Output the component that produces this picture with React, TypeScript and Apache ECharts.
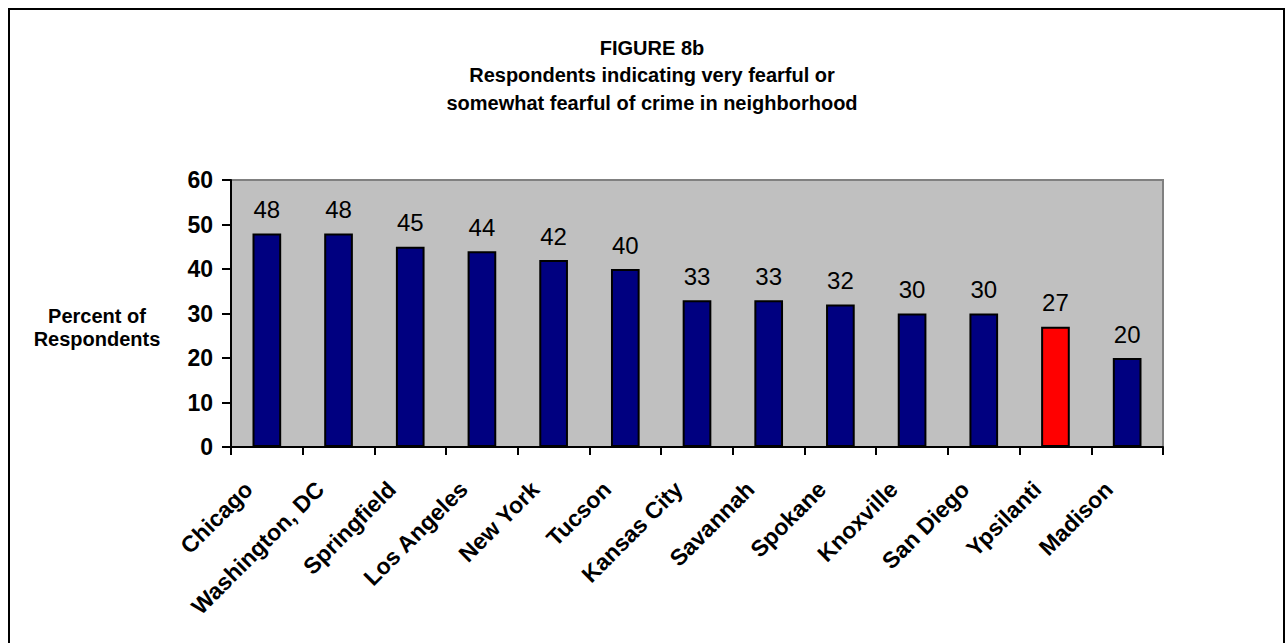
import { useEffect, useRef } from "react";
import * as echarts from "echarts";

const categories = [
  "Chicago",
  "Washington, DC",
  "Springfield",
  "Los Angeles",
  "New York",
  "Tucson",
  "Kansas City",
  "Savannah",
  "Spokane",
  "Knoxville",
  "San Diego",
  "Ypsilanti",
  "Madison",
];
const values = [48, 48, 45, 44, 42, 40, 33, 33, 32, 30, 30, 27, 20];
const highlighted = ["Ypsilanti"];
const titleLines = [
  "FIGURE 8b",
  "Respondents indicating very fearful or",
  "somewhat fearful of crime in neighborhood",
];
const yAxisName = ["Percent of", "Respondents"];
const yMin = 0;
const yMax = 60;
const yStep = 10;

const FONT = "'Liberation Sans', Arial, Helvetica, sans-serif";

export default function App() {
  const ref = useRef<HTMLDivElement>(null);

  useEffect(() => {
    document.body.style.margin = "0";
    if (!ref.current) return;
    const chart = echarts.init(ref.current, undefined, { renderer: "svg" });
    chart.setOption({
      animation: false,
      backgroundColor: "#ffffff",
      title: {
        text: titleLines.join("\n"),
        left: 647,
        top: 29,
        textAlign: "center",
        textStyle: {
          fontFamily: FONT,
          fontSize: 20,
          fontWeight: "bold",
          color: "#000",
          lineHeight: 27.5,
        },
      },
      graphic: [
        {
          type: "rect",
          shape: { x: 9, y: 9, width: 1275, height: 700 },
          style: { fill: "none", stroke: "#000", lineWidth: 2 },
          silent: true,
          z: 0,
        },
        {
          type: "text",
          x: 97,
          y: 327,
          silent: true,
          style: {
            text: yAxisName.join("\n"),
            fontFamily: FONT,
            fontSize: 20,
            fontWeight: "bold",
            fill: "#000",
            align: "center",
            verticalAlign: "middle",
            lineHeight: 23,
          },
        },
      ],
      grid: {
        left: 231,
        right: 125,
        top: 180,
        bottom: 196,
        show: true,
        backgroundColor: "#c0c0c0",
        borderColor: "#808080",
        borderWidth: 2,
      },
      xAxis: {
        type: "category",
        data: categories,
        boundaryGap: true,
        axisLine: { show: true, lineStyle: { color: "#000", width: 2 } },
        axisTick: {
          show: true,
          alignWithLabel: false,
          length: 8,
          lineStyle: { color: "#000", width: 2 },
        },
        axisLabel: {
          interval: 0,
          rotate: 45,
          margin: 20,
          padding: [0, 26, 0, 0],
          fontFamily: FONT,
          fontSize: 23,
          fontWeight: "bold",
          color: "#000",
        },
        splitLine: { show: false },
      },
      yAxis: {
        type: "value",
        min: yMin,
        max: yMax,
        interval: yStep,
        axisLine: { show: true, lineStyle: { color: "#000", width: 2 } },
        axisTick: {
          show: true,
          length: 9,
          lineStyle: { color: "#000", width: 2 },
        },
        axisLabel: {
          margin: 18,
          fontFamily: FONT,
          fontSize: 23,
          fontWeight: "bold",
          color: "#000",
        },
        splitLine: { show: false },
      },
      series: [
        {
          type: "bar",
          data: values.map((v, i) => ({
            value: v,
            itemStyle: {
              color: highlighted.includes(categories[i]) ? "#ff0000" : "#000080",
            },
          })),
          barCategoryGap: "60%",
          itemStyle: { borderColor: "#000", borderWidth: 2 },
          label: {
            show: true,
            position: "top",
            distance: 12,
            fontFamily: FONT,
            fontSize: 24,
            fontWeight: "normal",
            color: "#000",
          },
          z: 3,
        },
      ],
    });
    return () => chart.dispose();
  }, []);

  return <div ref={ref} style={{ width: 1288, height: 643 }} />;
}
